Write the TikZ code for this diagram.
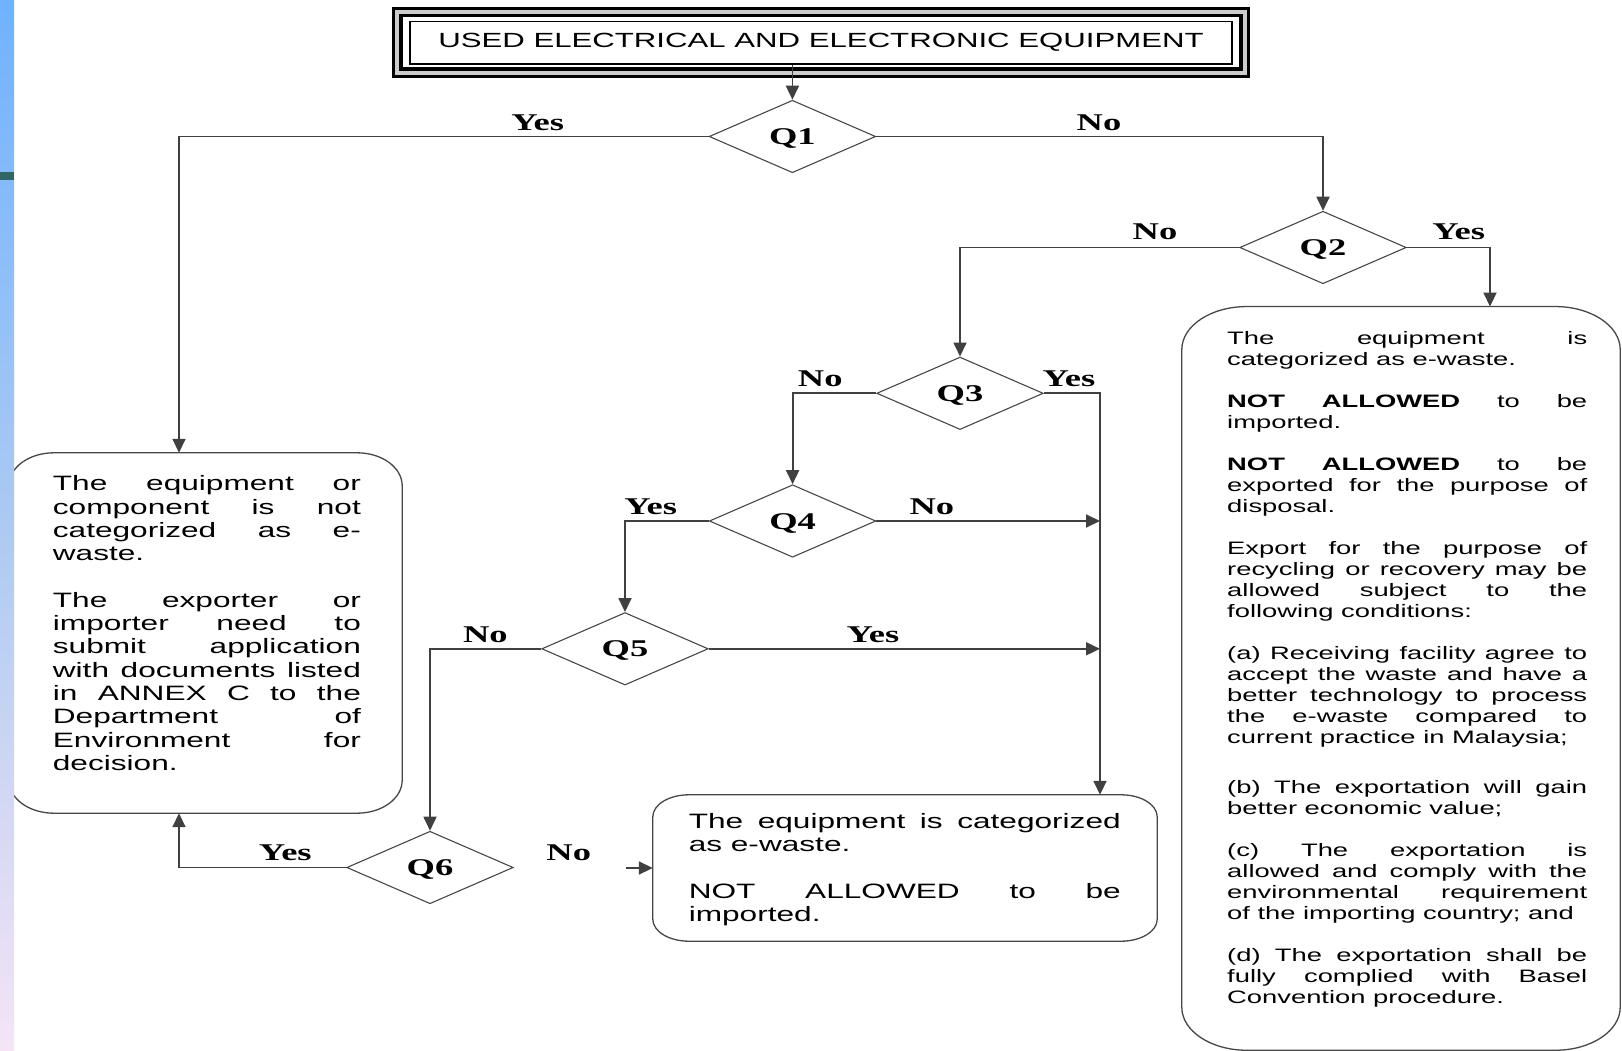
\documentclass[tikz,border=0pt]{standalone}
\usepackage{fontspec}
\usepackage{xcolor}
\usepackage{tikz}
\usetikzlibrary{arrows.meta, shapes.geometric}

\newfontfamily\boxfont{Liberation Sans}[FakeStretch=1.52]
\newfontfamily\labfont{Liberation Serif}[FakeStretch=1.52]
\newcommand{\qfont}{\labfont\bfseries\fontsize{24}{24}\selectfont}
\newcommand{\wordgap}{\spaceskip=0.42em plus 3em minus 0.05em\relax}

\definecolor{stripTop}{RGB}{112,178,255}
\definecolor{stripMid}{RGB}{172,202,242}
\definecolor{stripBot}{RGB}{245,228,246}
\definecolor{stripMark}{RGB}{50,102,102}

\tolerance=10000
\hbadness=10000

% outline with oval corners round a frame node: node, x radius, y radius
\newcommand{\ovalframe}[3]{%
  \draw[framepen] ([xshift=#2]#1.north west) -- ([xshift=-#2]#1.north east)
    arc[start angle=90, end angle=0, x radius=#2, y radius=#3]
    -- ([yshift=#3]#1.south east)
    arc[start angle=0, end angle=-90, x radius=#2, y radius=#3]
    -- ([xshift=#2]#1.south west)
    arc[start angle=-90, end angle=-180, x radius=#2, y radius=#3]
    -- ([yshift=-#3]#1.north west)
    arc[start angle=180, end angle=90, x radius=#2, y radius=#3]
    -- cycle;}

\begin{document}
\begin{tikzpicture}[
    x=1pt, y=-1pt,
    >={Triangle[length=14pt,width=13pt]},
    flow/.style     = {draw=black!75, line width=1.8pt},
    decision/.style = {diamond, draw=black!72, line width=1.1pt,
                       minimum width=166.5pt, minimum height=72.5pt,
                       inner sep=0pt, text height=16pt, text depth=0pt,
                       font=\qfont},
    answer/.style   = {anchor=base, inner sep=0pt, font=\qfont},
    frame/.style    = {rectangle, inner sep=0pt},
    framepen/.style = {draw=black!72, line width=1.3pt},
    bigtext/.style  = {anchor=base west, inner sep=0pt, align=justify,
                       font=\boxfont\fontsize{20.8}{23.3}\selectfont\wordgap},
    smalltext/.style= {anchor=base west, inner sep=0pt, align=justify,
                       font=\boxfont\fontsize{18}{21}\selectfont\wordgap},
]
\useasboundingbox (0,0) rectangle (1622,1051);
\fill[white] (0,0) rectangle (1622,1051);

% title
\node[draw=black, line width=1.5pt, minimum width=822pt, minimum height=42.5pt,
      inner sep=0pt, font=\boxfont\fontsize{20.5}{24}\selectfont] (title)
    at (821,42.75) {USED ELECTRICAL AND ELECTRONIC EQUIPMENT};
\draw[line width=3.2pt, double=black!20, double distance=4.2pt]
    ([xshift=-12pt,yshift=8.8pt]title.north west) rectangle
    ([xshift=12pt,yshift=-8pt]title.south east);

% questions
\node[decision] (Q1) at (792.4,136.5) {Q1};
\node[decision] (Q2) at (1323,247.5)  {Q2};
\node[decision] (Q3) at (960,393.3)   {Q3};
\node[decision] (Q4) at (792.6,521)   {Q4};
\node[decision] (Q5) at (625,648.8)   {Q5};
\node[decision] (Q6) at (430,867.5)   {Q6};

% outcome frames
\node[frame, minimum width=393pt, minimum height=360pt]   (notew)    at (205.5,633) {};
\node[frame, minimum width=504pt, minimum height=146pt]   (ewimport) at (905,868)   {};
\node[frame, minimum width=438pt, minimum height=743.3pt] (ewaste)   at (1401,678.4) {};

\ovalframe{notew}{45pt}{33pt}
\ovalframe{ewimport}{36pt}{22pt}
\ovalframe{ewaste}{65pt}{43pt}

\node[bigtext, text width=308pt] (notewtext) at (52.7,490.7)
  {The equipment or\linebreak component is not\linebreak categorized as e-\linebreak waste.\par\vspace{23.3pt}
   The exporter or\linebreak importer need to\linebreak submit application\linebreak
   with documents listed\linebreak in ANNEX C to the\linebreak Department of\linebreak
   Environment for\linebreak decision.};

\node[bigtext, text width=432pt] (ewimporttext) at (688.6,828.3)
  {The equipment is categorized\linebreak as e-waste.\par\vspace{23.3pt}
   NOT ALLOWED to be\linebreak imported.};

\node[smalltext, text width=360pt] (ewastetext) at (1227,344)
  {The equipment is\linebreak categorized as e-waste.\par\vspace{21pt}
   \textbf{NOT ALLOWED} to be\linebreak imported.\par\vspace{21pt}
   \textbf{NOT ALLOWED} to be\linebreak exported for the purpose of\linebreak disposal.\par\vspace{21pt}
   Export for the purpose of\linebreak recycling or recovery may be\linebreak
   allowed subject to the\linebreak following conditions:\par\vspace{21pt}
   (a) Receiving facility agree to\linebreak accept the waste and have a\linebreak
   better technology to process\linebreak the e-waste compared to\linebreak
   current practice in Malaysia;\par\vspace{29pt}
   (b) The exportation will gain\linebreak better economic value;\par\vspace{21pt}
   (c) The exportation is\linebreak allowed and comply with the\linebreak
   environmental requirement\linebreak of the importing country; and\par\vspace{21pt}
   (d) The exportation shall be\linebreak fully complied with Basel\linebreak
   Convention procedure.};

% connectors
\coordinate (bus) at ([xshift=195pt]ewimport.north);
\coordinate (q6no) at (626,868);

\draw[->, flow] (title.south -| Q1.north) -- (Q1.north);
\draw[->, flow] (Q1.west) -| ([xshift=-26.5pt]notew.north);
\draw[->, flow] (Q1.east) -| (Q2.north);
\draw[->, flow] (Q2.west) -| (Q3.north);
\draw[->, flow] (Q2.east) -| ([xshift=89pt]ewaste.north);
\draw[->, flow] (Q3.west) -| (Q4.north);
\draw[->, flow] (Q3.east) -| (bus);
\draw[->, flow] (Q4.east) -- (Q4.east -| bus);
\draw[->, flow] (Q4.west) -| (Q5.north);
\draw[->, flow] (Q5.east) -- (Q5.east -| bus);
\draw[->, flow] (Q5.west) -| (Q6.north);
\draw[->, flow] (Q6.west) -| ([xshift=-26.5pt]notew.south);
\draw[->, flow] (q6no) -- (q6no -| ewimport.west);

% answers
\node[answer] (q1yes) at (537.7,130.5) {Yes};
\node[answer] (q1no)  at (1099,130.5)  {No};
\node[answer] (q2no)  at (1155,239.3)  {No};
\node[answer] (q2yes) at (1458.7,239.3) {Yes};
\node[answer] (q3no)  at (820.2,386.7) {No};
\node[answer] (q3yes) at (1069,386.7)  {Yes};
\node[answer] (q4yes) at (650.6,514.3) {Yes};
\node[answer] (q4no)  at (931.8,514.3) {No};
\node[answer] (q5no)  at (485.4,642.7) {No};
\node[answer] (q5yes) at (873,642.7)   {Yes};
\node[answer] (q6yes) at (285.3,860)   {Yes};
\node[answer] (q6no)  at (568.7,860)   {No};

% slide strip on the left
\shade[top color=stripTop, bottom color=stripBot, middle color=stripMid]
    (0,0) rectangle (14,1051);
\fill[stripMark] (0,172) rectangle (14,180);

\end{tikzpicture}
\end{document}
